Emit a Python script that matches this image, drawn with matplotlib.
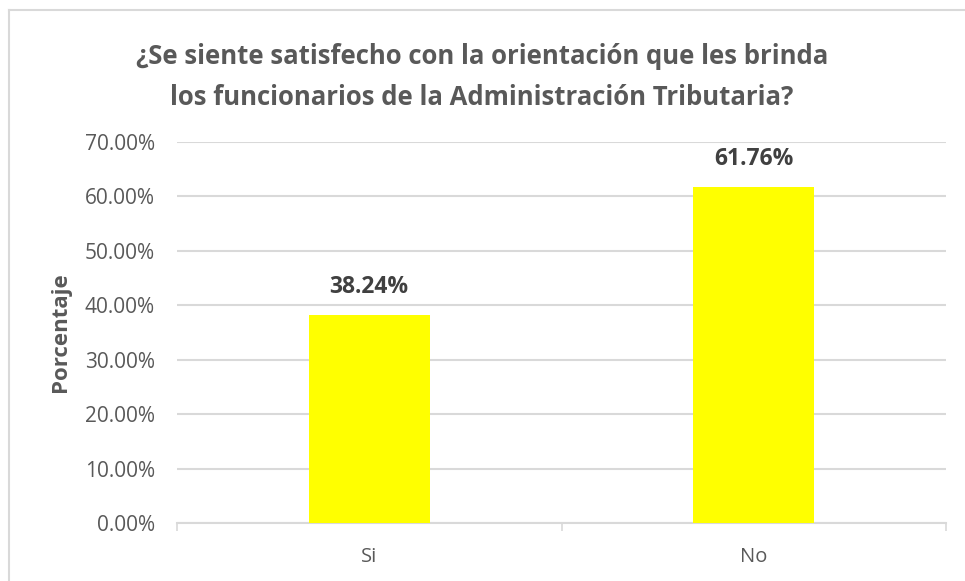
import matplotlib.pyplot as plt
from matplotlib.lines import Line2D
from matplotlib.ticker import FuncFormatter

categorias = ['Si', 'No']
porcentajes = [0.3824, 0.6176]
titulo = '¿Se siente satisfecho con la orientación que les brinda\nlos funcionarios de la Administración Tributaria?'

plt.rcParams['font.family'] = ['Open Sans', 'DejaVu Sans']

W, H = 965, 581
fig = plt.figure(figsize=(W / 100, H / 100), dpi=100)
fig.patch.set_facecolor('white')

# marco del grafico (solo se ven borde izquierdo y superior)
borde = '#D9D9D9'
fig.add_artist(Line2D([9 / W, 9 / W], [0, 1 - 10 / H], color=borde, lw=1.5))
fig.add_artist(Line2D([9 / W, 1], [1 - 10 / H, 1 - 10 / H], color=borde, lw=1.5))

ax = fig.add_axes([177 / W, (H - 523) / H, (946 - 177) / W, (523 - 142) / H])
x = range(len(categorias))
ax.bar(x, porcentajes, width=0.315, color='#FFFF00', zorder=3)

ax.set_xlim(-0.5, len(categorias) - 0.5)
ax.set_ylim(0, 0.70)
ax.set_yticks([i / 10 for i in range(8)])
ax.yaxis.set_major_formatter(FuncFormatter(lambda v, p: f'{v * 100:.2f}%'))
ax.grid(axis='y', color='#D9D9D9', lw=1.5, zorder=0)

ax.set_xticks(list(x))
ax.set_xticklabels(categorias)
ax.set_xticks([-0.5, 0.5, 1.5], minor=True)
ax.tick_params(axis='x', which='major', length=0, pad=17, labelsize=14.5, labelcolor='#595959')
ax.tick_params(axis='x', which='minor', length=5.5, width=1.2, color=borde)
ax.tick_params(axis='y', length=0, pad=16, labelsize=15, labelcolor='#595959')

for s in ['top', 'right', 'left']:
    ax.spines[s].set_visible(False)
ax.spines['bottom'].set_color(borde)
ax.spines['bottom'].set_linewidth(1.5)

ax.set_ylabel('Porcentaje', fontsize=16, fontweight='bold', color='#595959', labelpad=10)

for xi, v in zip(x, porcentajes):
    ax.annotate(f'{v * 100:.2f}%', (xi, v), xytext=(0, 20), textcoords='offset points',
                ha='center', va='center', fontsize=16.5, fontweight='bold', color='#404040')

fig.text(482 / W, 1 - 77 / H, titulo, ha='center', va='center', fontsize=18.5,
         fontweight='bold', color='#595959', linespacing=1.7)

fig.savefig('out.png', dpi=100)
